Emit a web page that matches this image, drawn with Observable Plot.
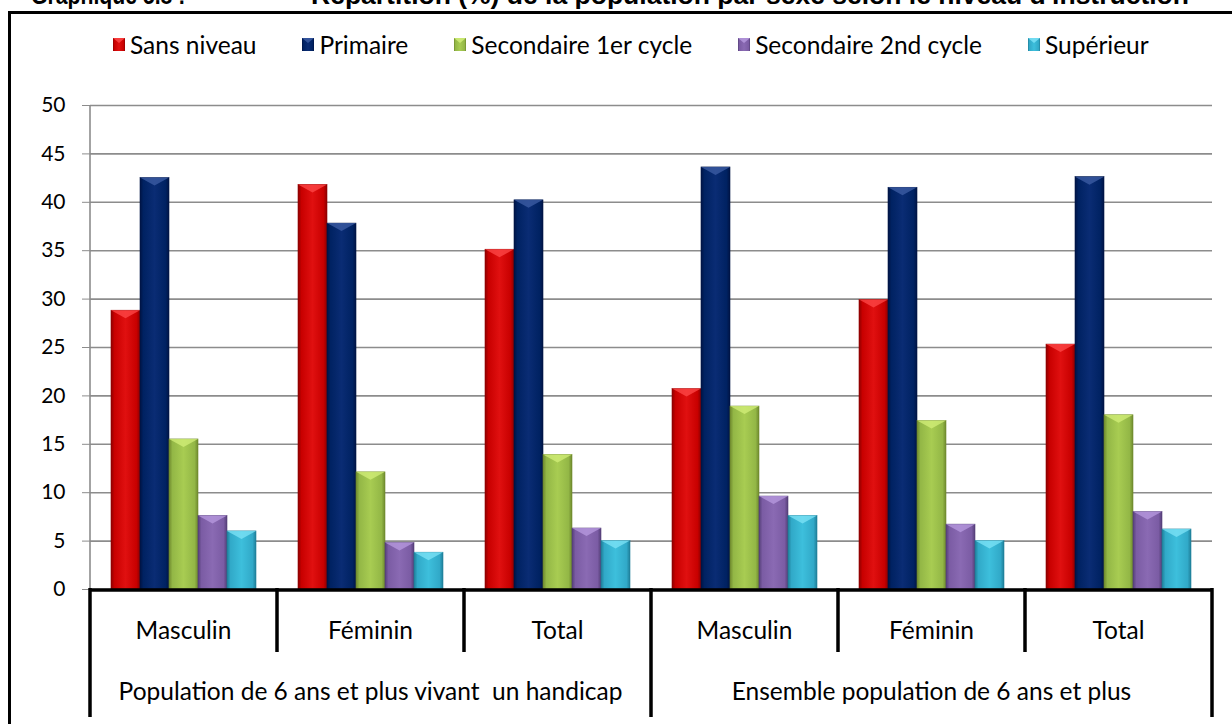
<!DOCTYPE html>
<html>
<head>
<meta charset="utf-8">
<script src="https://cdn.jsdelivr.net/npm/d3@7"></script>
<script src="https://cdn.jsdelivr.net/npm/@observablehq/plot@0.6"></script>
<style>
  html, body { margin: 0; padding: 0; background: #fff; overflow: hidden; }
  #page { position: relative; width: 1232px; height: 724px; overflow: hidden; font-family: Lato, "Open Sans", sans-serif; }
  #title { position: absolute; left: 0; top: -18px; height: 40px; font-family: "Liberation Sans", Arial, sans-serif; font-weight: bold; font-size: 26.5px; line-height: 26.5px; white-space: pre; color: #000; }
  #title span { position: absolute; top: 0; }
  #title .lead { transform-origin: left center; transform: scaleX(0.8); }
  #frame { position: absolute; left: 8px; top: 11px; width: 1240px; height: 740px; border: 3px solid #000; box-sizing: border-box; }
  #legend { position: absolute; left: 113px; top: 30px; display: flex; gap: 46px; align-items: center; font-size: 24.5px; color: #000; }
  #legend .item { display: flex; align-items: center; gap: 5px; white-space: nowrap; }
  #chart { position: absolute; left: 0; top: 70px; }
</style>
</head>
<body>
<div id="page">
  <div id="title"><span class="lead" style="left:31px">Graphique 5.8 :</span><span style="left:311px">Répartition (%) de la population par sexe selon le niveau d'instruction</span></div>
  <div id="frame"></div>
  <div id="legend"></div>
  <div id="chart"></div>
</div>
<svg width="0" height="0" style="position:absolute">
  <defs id="gradDefs"></defs>
</svg>
<script>
// ---- Data ----
const levels = ["Sans niveau", "Primaire", "Secondaire 1er cycle", "Secondaire 2nd cycle", "Supérieur"];
const sexes = ["Masculin", "Féminin", "Total"];
const populations = ["Population de 6 ans et plus vivant  un handicap", "Ensemble population de 6 ans et plus"];
const sansNiveau  = [28.8, 41.8, 35.1, 20.7, 29.9, 25.3];
const primaire    = [42.5, 37.8, 40.2, 43.6, 41.5, 42.6];
const secondaire1 = [15.5, 12.1, 13.9, 18.9, 17.4, 18.0];
const secondaire2 = [7.6, 4.8, 6.3, 9.6, 6.7, 8.0];
const superieur   = [6.0, 3.8, 5.0, 7.6, 5.0, 6.2];
const yTicks = [0, 5, 10, 15, 20, 25, 30, 35, 40, 45, 50];

// ---- Styles ----
const colors = [
  {dark: "#8e0000", base: "#c80000", light: "#e01010", top: "#ff4a4a"},
  {dark: "#001445", base: "#002262", light: "#0a2c74", top: "#3f5fa6"},
  {dark: "#6f8a2e", base: "#93b746", light: "#a8cc52", top: "#d3ef7a"},
  {dark: "#553f78", base: "#7b5ca4", light: "#8a6ab3", top: "#b89be0"},
  {dark: "#1f7f99", base: "#31a9c8", light: "#3dbfdc", top: "#7fe4f7"}
];

const defs = d3.select("#gradDefs");
colors.forEach((c, i) => {
  const g = defs.append("linearGradient").attr("id", "g" + i).attr("x1", "0").attr("x2", "1").attr("y1", "0").attr("y2", "0");
  [[0, c.dark], [0.12, c.base], [0.5, c.light], [0.88, c.base], [1, c.dark]].forEach(([o, col]) =>
    g.append("stop").attr("offset", o).attr("stop-color", col));
});

// ---- Table ----
const groupKeys = populations.flatMap((p, pi) => sexes.map(s => pi + "|" + s));
const series = [sansNiveau, primaire, secondaire1, secondaire2, superieur];
const rows = [];
groupKeys.forEach((g, gi) => levels.forEach((l, li) => rows.push({group: g, level: l, li, value: series[li][gi]})));

// ---- Legend ----
const legend = d3.select("#legend");
levels.forEach((l, i) => {
  const it = legend.append("div").attr("class", "item");
  const s = it.append("svg").attr("width", 12).attr("height", 13);
  s.append("rect").attr("width", 12).attr("height", 13).attr("fill", `url(#g${i})`);
  s.append("polygon").attr("points", "0,0 12,0 6,5").attr("fill", colors[i].top).attr("opacity", 0.8);
  it.append("span").text(l);
});

// ---- Plot ----
const W = 1232, H = 654;
const plot = Plot.plot({
  width: W, height: H,
  marginLeft: 90, marginRight: 20, marginTop: 35, marginBottom: 135,
  style: {fontFamily: "Lato, 'Open Sans', sans-serif", background: "transparent", overflow: "visible"},
  fx: {domain: groupKeys, padding: 0, axis: null, label: null},
  x: {domain: levels, paddingInner: 0, paddingOuter: 0.7, axis: null, label: null},
  y: {domain: [0, 50], label: null},
  marks: [
    Plot.gridY(yTicks, {stroke: "#8c8c8c", strokeOpacity: 1, strokeWidth: 1.6}),
    Plot.axisY(yTicks, {tickSize: 8, tickPadding: 17, fontSize: 21, stroke: "#8c8c8c", fill: "#000", label: null, tickFormat: d => d}),
    Plot.barY(rows, {fx: "group", x: "level", y: "value", fill: d => `url(#g${d.li})`, stroke: d => colors[d.li].dark, strokeWidth: 0.6, inset: 0})
  ]
});
document.getElementById("chart").appendChild(plot);

// ---- Decorations using Plot's scales ----
const svg = d3.select(plot);
const fx = plot.scale("fx");
const y = plot.scale("y");
const bw = fx.bandwidth;
const left = fx.apply(groupKeys[0]);
const right = fx.apply(groupKeys[groupKeys.length - 1]) + bw;
const y0 = y.apply(0), yTop = y.apply(50);

// bar top bevels
svg.selectAll('g[aria-label="bar"] rect').each(function(d, i) {
  const r = d3.select(this);
  const x = +r.attr("x"), yy = +r.attr("y"), w = +r.attr("width");
  const li = rows[i] ? rows[i].li : 0;
  d3.select(this.parentNode).append("polygon")
    .attr("points", `${x},${yy} ${x + w},${yy} ${x + w / 2},${yy + 8}`)
    .attr("fill", colors[li].top).attr("opacity", 0.75);
});

const deco = svg.append("g");
const bottom = H - 7;
// y-axis line
deco.append("line").attr("x1", left).attr("x2", left).attr("y1", yTop).attr("y2", y0).attr("stroke", "#8c8c8c").attr("stroke-width", 1.6);
// category table
deco.append("line").attr("x1", left).attr("x2", right).attr("y1", y0 + 1).attr("y2", y0 + 1).attr("stroke", "#000").attr("stroke-width", 3.5);
groupKeys.forEach((g, gi) => {
  const x = fx.apply(g);
  const outer = gi % sexes.length === 0;
  deco.append("line").attr("x1", x).attr("x2", x).attr("y1", y0 - 1).attr("y2", outer ? bottom : y0 + 63)
    .attr("stroke", "#000").attr("stroke-width", 3.5);
  deco.append("text").attr("x", x + bw / 2).attr("y", y0 + 41).attr("dy", "0.35em")
    .attr("text-anchor", "middle").attr("font-size", 24.5).attr("fill", "#000").text(g.split("|")[1]);
});
deco.append("line").attr("x1", right).attr("x2", right).attr("y1", y0 - 1).attr("y2", bottom).attr("stroke", "#000").attr("stroke-width", 3.5);
populations.forEach((p, pi) => {
  const a = fx.apply(groupKeys[pi * sexes.length]);
  const b = fx.apply(groupKeys[pi * sexes.length + sexes.length - 1]) + bw;
  deco.append("text").attr("x", (a + b) / 2).attr("y", y0 + 102).attr("dy", "0.35em")
    .attr("text-anchor", "middle").attr("font-size", 24.5).attr("fill", "#000").style("white-space", "pre").text(p);
});
</script>
</body>
</html>
